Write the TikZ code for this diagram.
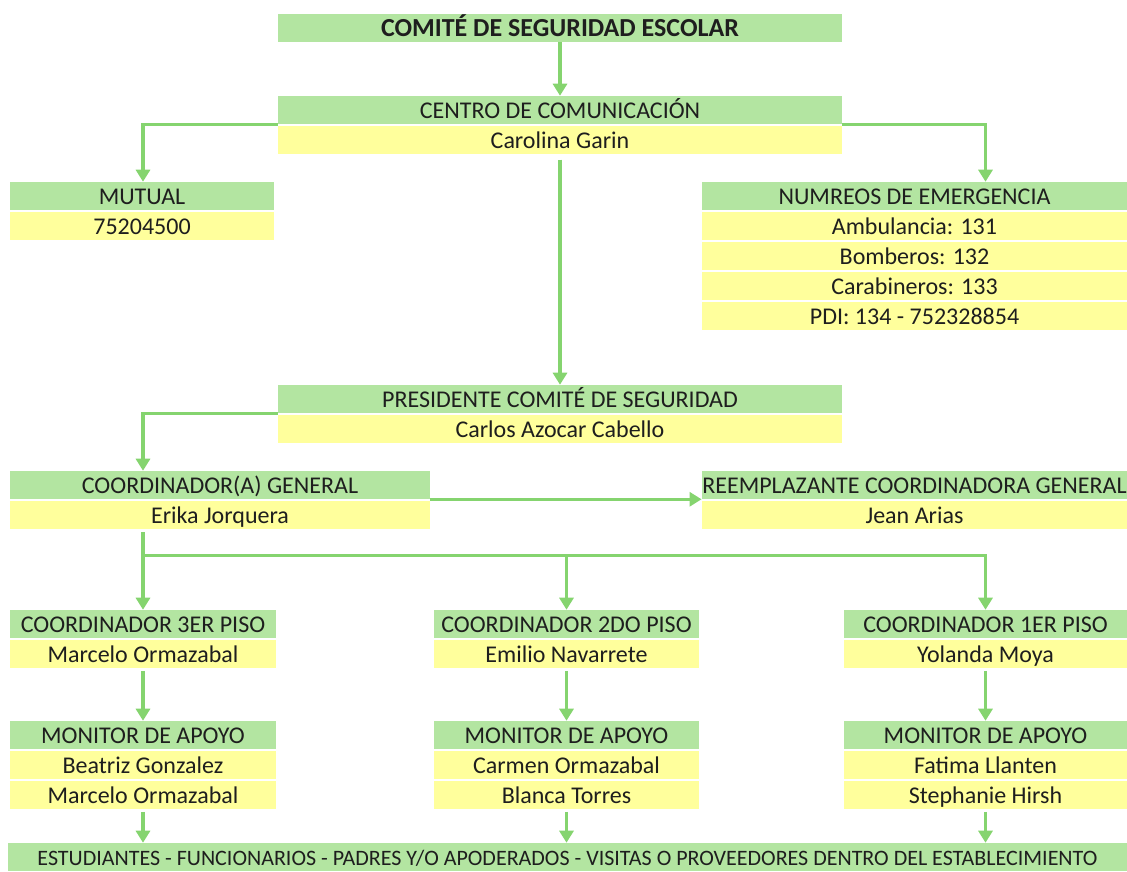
\documentclass[tikz,border=0pt]{standalone}
\usepackage{fontspec}
\setmainfont{Carlito}
\usetikzlibrary{positioning,arrows.meta}
\definecolor{headgreen}{HTML}{B3E5A1}
\definecolor{nameyellow}{HTML}{FFFF9C}
\definecolor{linegreen}{HTML}{85D46F}
\definecolor{inkdark}{HTML}{1E1E1E}
\tikzset{
  cell/.style={inner sep=0pt,minimum height=21pt,text height=12.5pt,text depth=0pt,text=inkdark,font=\fontsize{18}{20}\selectfont},
  headcell/.style={cell,fill=headgreen},
  namecell/.style={cell,fill=nameyellow},
  link/.style={draw=linegreen,line width=2.3pt},
  arr/.style={link,-{Triangle[width=10.5pt,length=9pt]}}
}
\begin{document}
\begin{tikzpicture}[x=0.75pt,y=-0.75pt]
\useasboundingbox (0,0) rectangle (1127,871);
% top
\node[headcell,minimum width=423pt,font=\fontsize{19.5}{21}\selectfont\bfseries] (title) at (560,28) {COMITÉ DE SEGURIDAD ESCOLAR};
\node[headcell,minimum width=423pt] (centro) at (560,110) {CENTRO DE COMUNICACIÓN};
\node[namecell,minimum width=423pt] (carolina) at (560,140) {Carolina Garin};
\draw[arr] (title)--(centro);
% mutual
\node[headcell,minimum width=198pt] (mutual) at (142,196) {MUTUAL};
\node[namecell,minimum width=198pt] (mutualnum) at (142,226) {75204500};
% emergencias
\node[headcell,minimum width=319pt] (numeros) at (914.5,196) {NUMREOS DE EMERGENCIA};
\node[namecell,minimum width=319pt] (ambulancia) at (914.5,226) {Ambulancia: 131};
\node[namecell,minimum width=319pt] (bomberos) at (914.5,256) {Bomberos: 132};
\node[namecell,minimum width=319pt] (carabineros) at (914.5,286) {Carabineros: 133};
\node[namecell,minimum width=319pt] (pdi) at (914.5,316) {PDI: 134 - 752328854};
% pisos (columns used by the connectors above)
\node[headcell,minimum width=199.5pt] (coord3) at (143,624) {COORDINADOR 3ER PISO};
\node[namecell,minimum width=199.5pt] (marcelo) at (143,654) {Marcelo Ormazabal};
\node[headcell,minimum width=199pt] (coord2) at (566.5,624) {COORDINADOR 2DO PISO};
\node[namecell,minimum width=199pt] (emilio) at (566.5,654) {Emilio Navarrete};
\node[headcell,minimum width=212pt] (coord1) at (985.5,624) {COORDINADOR 1ER PISO};
\node[namecell,minimum width=212pt] (yolanda) at (985.5,654) {Yolanda Moya};
\draw[arr] (centro.south west) -| (coord3.north |- mutual.north);
\draw[arr] (centro.south east) -| (coord1.north |- numeros.north);
% presidente
\node[headcell,minimum width=423pt] (presidente) at (560,399) {PRESIDENTE COMITÉ DE SEGURIDAD};
\node[namecell,minimum width=423pt] (carlos) at (560,429) {Carlos Azocar Cabello};
\draw[arr,shorten <=4pt] (carolina.south) -- (presidente.north);
% coordinacion general
\node[headcell,minimum width=315pt] (coordgen) at (220,485) {COORDINADOR(A) GENERAL};
\node[namecell,minimum width=315pt] (erika) at (220,515) {Erika Jorquera};
\node[headcell,minimum width=319pt] (reempl) at (914.5,485) {REEMPLAZANTE COORDINADORA GENERAL};
\node[namecell,minimum width=319pt] (jean) at (914.5,515) {Jean Arias};
\draw[arr] (presidente.south west) -| (coord3.north |- coordgen.north);
\draw[arr] (coordgen.south east) -- (reempl.south west);
\coordinate[above=41pt of coord3.north] (fork);
\draw[arr] (coord3.north |- erika.south) ++(0,3) -- (coord3.north);
\draw[arr] (fork) -| (coord2.north);
\draw[arr] (fork) -| (coord1.north);
% monitores
\node[headcell,minimum width=199.5pt] (mon3) at (143,735) {MONITOR DE APOYO};
\node[namecell,minimum width=199.5pt] (beatriz) at (143,765) {Beatriz Gonzalez};
\node[namecell,minimum width=199.5pt] (marcelob) at (143,795) {Marcelo Ormazabal};
\node[headcell,minimum width=199pt] (mon2) at (566.5,735) {MONITOR DE APOYO};
\node[namecell,minimum width=199pt] (carmen) at (566.5,765) {Carmen Ormazabal};
\node[namecell,minimum width=199pt] (blanca) at (566.5,795) {Blanca Torres};
\node[headcell,minimum width=212pt] (mon1) at (985.5,735) {MONITOR DE APOYO};
\node[namecell,minimum width=212pt] (fatima) at (985.5,765) {Fatima Llanten};
\node[namecell,minimum width=212pt] (stephanie) at (985.5,795) {Stephanie Hirsh};
\draw[arr,shorten <=2pt] (marcelo.south) -- (mon3.north);
\draw[arr,shorten <=2pt] (emilio.south) -- (mon2.north);
\draw[arr,shorten <=2pt] (yolanda.south) -- (mon1.north);
% base
\node[headcell,minimum width=839pt,font=\fontsize{16.5}{18}\selectfont] (base) at (567.5,857) {ESTUDIANTES - FUNCIONARIOS - PADRES Y/O APODERADOS - VISITAS O PROVEEDORES DENTRO DEL ESTABLECIMIENTO};
\draw[arr,shorten <=2pt] (marcelob.south) -- (marcelob.south |- base.north);
\draw[arr,shorten <=2pt] (blanca.south) -- (blanca.south |- base.north);
\draw[arr,shorten <=2pt] (stephanie.south) -- (stephanie.south |- base.north);
\end{tikzpicture}
\end{document}
